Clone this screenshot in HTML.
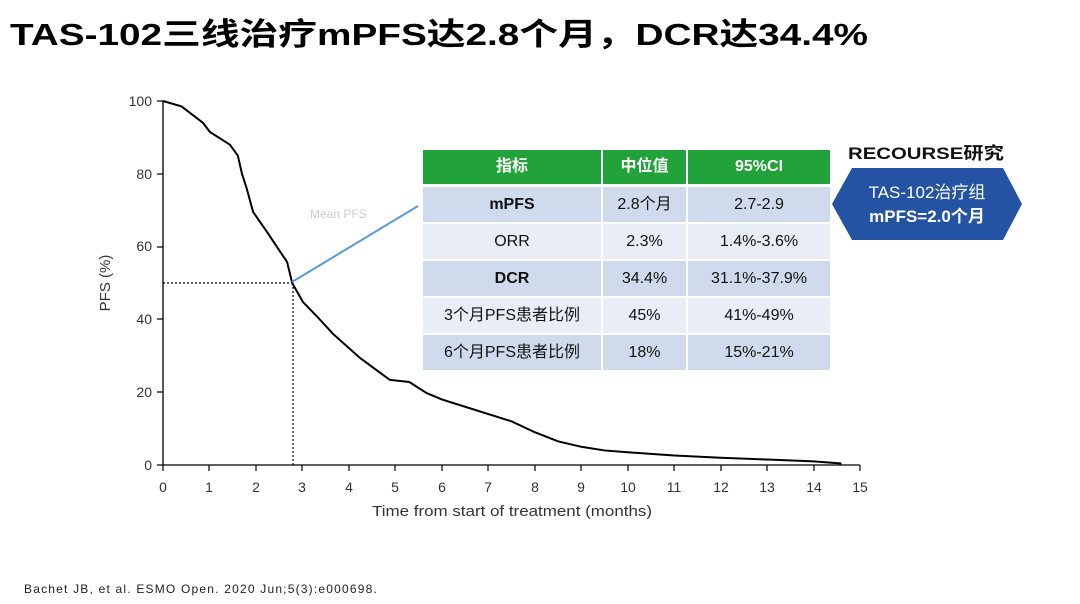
<!DOCTYPE html>
<html><head><meta charset="utf-8"><style>
body{margin:0;width:1080px;height:604px;background:#fff;position:relative;overflow:hidden;font-family:"Liberation Sans","Noto Sans CJK SC",sans-serif}
.c{position:absolute;display:flex;align-items:center;justify-content:center;font-size:16px;color:#111;line-height:1}
.h{background:#22a23a;color:#fff;font-weight:bold}
.a{background:#cfdbed}.b{background:#e8edf6}
.f{position:absolute;left:24px;top:582px;font-size:12px;color:#222;letter-spacing:1.2px}
</style></head><body>
<svg width="1080" height="604" style="position:absolute;left:0;top:0" font-family="Liberation Sans,Noto Sans CJK SC,sans-serif">
<text x="10" y="45" font-size="31" font-weight="bold" fill="#000" textLength="858" lengthAdjust="spacingAndGlyphs">TAS-102三线治疗mPFS达2.8个月，DCR达34.4%</text>
<g stroke="#000" stroke-width="1.3" fill="none">
<line x1="163" y1="101" x2="163" y2="465"/><line x1="163" y1="465" x2="860" y2="465"/>
</g>
<g font-size="14" fill="#333" text-anchor="end">
<text x="152" y="470">0</text><text x="152" y="397">20</text><text x="152" y="324">40</text><text x="152" y="251">60</text><text x="152" y="179">80</text><text x="152" y="106">100</text>
</g>
<g stroke="#000" stroke-width="1.2">
<line x1="157" y1="465" x2="163" y2="465"/><line x1="157" y1="392" x2="163" y2="392"/><line x1="157" y1="319" x2="163" y2="319"/><line x1="157" y1="247" x2="163" y2="247"/><line x1="157" y1="174" x2="163" y2="174"/><line x1="157" y1="101" x2="163" y2="101"/>
</g>
<g font-size="14" fill="#333" text-anchor="middle">
<text x="163" y="492">0</text><text x="209" y="492">1</text><text x="256" y="492">2</text><text x="302" y="492">3</text><text x="349" y="492">4</text><text x="395" y="492">5</text><text x="442" y="492">6</text><text x="488" y="492">7</text><text x="535" y="492">8</text><text x="581" y="492">9</text><text x="628" y="492">10</text><text x="674" y="492">11</text><text x="721" y="492">12</text><text x="767" y="492">13</text><text x="814" y="492">14</text><text x="860" y="492">15</text>
<text x="512" y="516" font-size="15" textLength="280" lengthAdjust="spacingAndGlyphs">Time from start of treatment (months)</text>
</g>
<g stroke="#000" stroke-width="1.2">
<line x1="163" y1="465" x2="163" y2="471"/><line x1="209" y1="465" x2="209" y2="471"/><line x1="256" y1="465" x2="256" y2="471"/><line x1="302" y1="465" x2="302" y2="471"/><line x1="349" y1="465" x2="349" y2="471"/><line x1="395" y1="465" x2="395" y2="471"/><line x1="442" y1="465" x2="442" y2="471"/><line x1="488" y1="465" x2="488" y2="471"/><line x1="535" y1="465" x2="535" y2="471"/><line x1="581" y1="465" x2="581" y2="471"/><line x1="628" y1="465" x2="628" y2="471"/><line x1="674" y1="465" x2="674" y2="471"/><line x1="721" y1="465" x2="721" y2="471"/><line x1="767" y1="465" x2="767" y2="471"/><line x1="814" y1="465" x2="814" y2="471"/><line x1="860" y1="465" x2="860" y2="471"/>
</g>
<text x="110" y="283" font-size="15" fill="#333" text-anchor="middle" transform="rotate(-90 110 283)">PFS (%)</text>
<g stroke="#000" stroke-width="1.2" stroke-dasharray="2,2" fill="none">
<line x1="163" y1="283" x2="293" y2="283"/><line x1="293" y1="283" x2="293" y2="465"/>
</g>
<g transform="translate(163,465) scale(46.47,-3.64)">
<polyline vector-effect="non-scaling-stroke" stroke="#000" stroke-width="2" fill="none" points="0,100 0.4,98.5 0.86,94 1.01,91.5 1.44,88 1.61,85 1.7,80 1.8,76 1.94,69.5 2.24,64 2.5,59 2.67,55.8 2.78,50 3.01,44.8 3.3,41 3.66,36 4.24,29.4 4.6,26 4.88,23.4 5.3,22.8 5.67,19.8 6.0,18 6.5,16 7.0,14 7.5,12 8.0,9 8.5,6.5 9.0,5 9.5,4 10,3.5 11,2.6 12,2 13,1.5 14,1 14.6,0.4"/>
</g>
<line x1="292" y1="282" x2="418" y2="206" stroke="#5b9bd5" stroke-width="2"/>
<text x="310" y="218" font-size="12" fill="#ccc">Mean PFS</text>
<polygon points="832,204 852,168 1003,168 1022,204 1003,240 852,240" fill="#2553a4"/>
<text x="927" y="198" font-size="17" fill="#fff" text-anchor="middle">TAS-102治疗组</text>
<text x="927" y="222" font-size="17" fill="#fff" font-weight="bold" text-anchor="middle">mPFS=2.0个月</text>
<text x="848" y="159" font-size="17" fill="#111" font-weight="bold" textLength="156" lengthAdjust="spacingAndGlyphs">RECOURSE研究</text>
</svg>
<div class="c h" style="left:423px;top:150px;width:178px;height:34px">指标</div>
<div class="c h" style="left:603px;top:150px;width:83px;height:34px">中位值</div>
<div class="c h" style="left:688px;top:150px;width:142px;height:34px">95%CI</div>

<div class="c a" style="left:423px;top:187px;width:178px;height:35px"><b>mPFS</b></div>
<div class="c a" style="left:603px;top:187px;width:83px;height:35px">2.8个月</div>
<div class="c a" style="left:688px;top:187px;width:142px;height:35px">2.7-2.9</div>

<div class="c b" style="left:423px;top:224px;width:178px;height:35px">ORR</div>
<div class="c b" style="left:603px;top:224px;width:83px;height:35px">2.3%</div>
<div class="c b" style="left:688px;top:224px;width:142px;height:35px">1.4%-3.6%</div>

<div class="c a" style="left:423px;top:261px;width:178px;height:35px"><b>DCR</b></div>
<div class="c a" style="left:603px;top:261px;width:83px;height:35px">34.4%</div>
<div class="c a" style="left:688px;top:261px;width:142px;height:35px">31.1%-37.9%</div>

<div class="c b" style="left:423px;top:298px;width:178px;height:35px">3个月PFS患者比例</div>
<div class="c b" style="left:603px;top:298px;width:83px;height:35px">45%</div>
<div class="c b" style="left:688px;top:298px;width:142px;height:35px">41%-49%</div>

<div class="c a" style="left:423px;top:335px;width:178px;height:35px">6个月PFS患者比例</div>
<div class="c a" style="left:603px;top:335px;width:83px;height:35px">18%</div>
<div class="c a" style="left:688px;top:335px;width:142px;height:35px">15%-21%</div>
<div class="f">Bachet JB, et al. ESMO Open. 2020 Jun;5(3):e000698.</div>
</body></html>
